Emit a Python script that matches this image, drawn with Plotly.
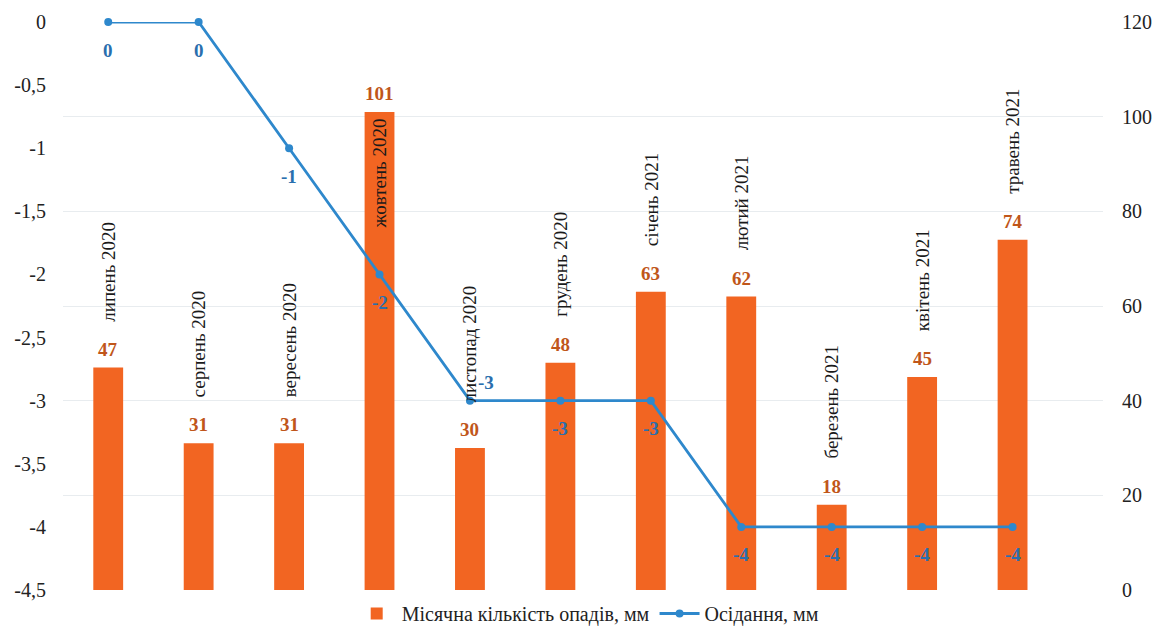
import plotly.graph_objects as go

# Monthly data, July 2020 - May 2021
months = ["липень 2020", "серпень 2020", "вересень 2020", "жовтень 2020",
          "листопад 2020", "грудень 2020", "січень 2021", "лютий 2021",
          "березень 2021", "квітень 2021", "травень 2021"]
precip_mm = [47, 31, 31, 101, 30, 48, 63, 62, 18, 45, 74]
subsidence_mm = [0, 0, -1, -2, -3, -3, -3, -4, -4, -4, -4]

precip_ticks = [0, 20, 40, 60, 80, 100, 120]
subs_ticks = [0, -0.5, -1, -1.5, -2, -2.5, -3, -3.5, -4, -4.5]
subs_ticktext = ["0", "-0,5", "-1", "-1,5", "-2", "-2,5", "-3", "-3,5", "-4", "-4,5"]

SERIF = "Liberation Serif, Times New Roman, serif"
BAR_COLOR = "#F26522"
BAR_LABEL = "#C0561A"
LINE_COLOR = "#2E88CC"
LINE_LABEL = "#2A6FAE"

idx = list(range(len(months)))

fig = go.Figure()

fig.add_trace(go.Bar(
    x=idx, y=precip_mm, yaxis="y",
    name="Місячна кількість опадів, мм",
    marker=dict(color=BAR_COLOR, line=dict(width=0)),
    width=0.33,
))

fig.add_trace(go.Scatter(
    x=idx, y=subsidence_mm, yaxis="y2",
    name="Осідання, мм",
    mode="lines+markers",
    line=dict(color=LINE_COLOR, width=2.8),
    marker=dict(color=LINE_COLOR, size=8),
    cliponaxis=False,
))

annotations = []
for i, (m, v) in enumerate(zip(months, precip_mm)):
    # value above each bar
    annotations.append(dict(
        x=i, y=v, xref="x", yref="y", text=f"<b>{v}</b>", showarrow=False,
        yanchor="bottom", yshift=6,
        font=dict(family=SERIF, size=19, color=BAR_LABEL),
    ))
    # vertical month name over each bar (inside the tallest one)
    inside = v > 90
    annotations.append(dict(
        x=i, y=v, xref="x", yref="y",
        text=m, textangle=-90, showarrow=False,
        yanchor="top" if inside else "bottom",
        yshift=-5 if inside else 44,
        font=dict(family=SERIF, size=19, color="#1a1a1a"),
    ))

# subsidence values below the points; the first -3 sits above-right
for i, s in enumerate(subsidence_mm):
    above = i == 4
    annotations.append(dict(
        x=i, y=s, xref="x", yref="y2", text=f"<b>{s}</b>", showarrow=False,
        yanchor="middle", xshift=16 if above else 0, yshift=18 if above else -28,
        font=dict(family=SERIF, size=19, color=LINE_LABEL),
    ))

fig.update_layout(
    width=1160, height=633,
    margin=dict(l=63, r=57, t=22, b=43, autoexpand=False),
    paper_bgcolor="white", plot_bgcolor="white",
    font=dict(family=SERIF, size=20, color="#222"),
    showlegend=True,
    legend=dict(orientation="h", x=0.505, xanchor="center",
                yref="container", y=0.0, yanchor="bottom",
                font=dict(family=SERIF, size=20, color="#222"),
                itemwidth=40, traceorder="normal"),
    xaxis=dict(range=[-0.5, 11.0], showticklabels=False, showgrid=False,
               zeroline=False, showline=False, ticks=""),
    yaxis=dict(side="right", range=[0, 120], tickvals=precip_ticks,
               showgrid=True, gridcolor="#E8ECEF", gridwidth=1.3,
               zeroline=False, showline=False, ticks="",
               ticklabelstandoff=18,
               tickfont=dict(family=SERIF, size=20, color="#222")),
    yaxis2=dict(side="left", overlaying="y", range=[-4.5, 0],
                tickvals=subs_ticks, ticktext=subs_ticktext,
                showgrid=False, zeroline=False, showline=False, ticks="",
                ticklabelstandoff=16,
                tickfont=dict(family=SERIF, size=20, color="#222")),
    annotations=annotations,
)

fig.write_html("out.html")
